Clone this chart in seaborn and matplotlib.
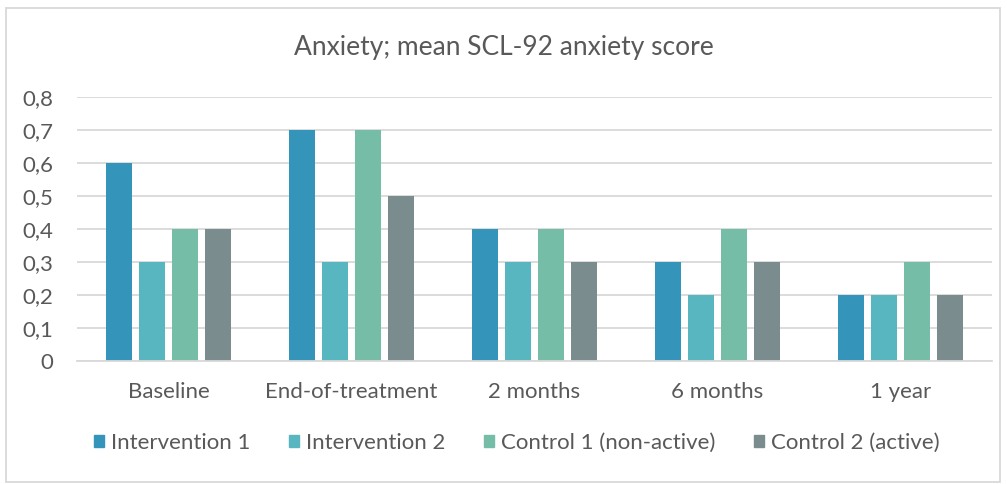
import matplotlib
matplotlib.use('Agg')
import matplotlib.pyplot as plt
import matplotlib.patches as mpatches
import seaborn as sns
import pandas as pd

# Chart data
timepoints = ['Baseline', 'End-of-treatment', '2 months', '6 months', '1 year']
groups = ['Intervention 1', 'Intervention 2', 'Control 1 (non-active)', 'Control 2 (active)']
intervention_1 = [0.6, 0.7, 0.4, 0.3, 0.2]
intervention_2 = [0.3, 0.3, 0.3, 0.2, 0.2]
control_1 = [0.4, 0.7, 0.4, 0.4, 0.3]
control_2 = [0.4, 0.5, 0.3, 0.3, 0.2]
y_ticks = [0, 0.1, 0.2, 0.3, 0.4, 0.5, 0.6, 0.7, 0.8]
y_tick_labels = ['0', '0,1', '0,2', '0,3', '0,4', '0,5', '0,6', '0,7', '0,8']

colors = ['#3494BA', '#58B6C0', '#75BDA7', '#7A8C8E']
text_color = '#595959'
grid_color = '#D9D9D9'

# Long-format table for seaborn
rows = []
for g, vals in zip(groups, [intervention_1, intervention_2, control_1, control_2]):
    for t, v in zip(timepoints, vals):
        rows.append({'timepoint': t, 'group': g, 'score': v})
df = pd.DataFrame(rows)

sns.set_style('white')
plt.rcParams['font.family'] = ['Lato', 'DejaVu Sans']

fig = plt.figure(figsize=(10.07, 4.84), dpi=100, facecolor='white')
ax = fig.add_axes([0.0765, 0.254, 0.9085, 0.546])

sns.barplot(data=df, x='timepoint', y='score', hue='group', order=timepoints,
            hue_order=groups, palette=colors, width=0.72, gap=0.21,
            saturation=1, errorbar=None, ax=ax, legend=False,
            edgecolor='none', linewidth=0)

ax.set_ylim(0, 0.8)
ax.set_xlim(-0.5, len(timepoints) - 0.5)
ax.set_yticks(y_ticks)
ax.set_yticklabels(y_tick_labels)
ax.yaxis.grid(True, color=grid_color, linewidth=1.3)
ax.set_axisbelow(True)
for side in ['top', 'right', 'left']:
    ax.spines[side].set_visible(False)
ax.spines['bottom'].set_color(grid_color)
ax.spines['bottom'].set_linewidth(1.3)
ax.tick_params(axis='both', length=0, labelsize=16, colors=text_color)
ax.tick_params(axis='y', pad=17)
ax.tick_params(axis='x', pad=15)
ax.set_xlabel('')
ax.set_ylabel('')

fig.text(0.5, 0.902, 'Anxiety; mean SCL-92 anxiety score', ha='center', va='center',
         fontsize=19, color=text_color)

handles = [mpatches.Patch(color=c, label=g) for c, g in zip(colors, groups)]
fig.legend(handles=handles, loc='center', bbox_to_anchor=(0.513, 0.085), ncol=4,
           frameon=False, fontsize=16, handlelength=0.45, handleheight=0.45,
           handletextpad=0.3, columnspacing=1.75, labelcolor=text_color)

# chart border
fig.patches.append(mpatches.Rectangle((6 / 1007, 2 / 484), 994 / 1007, 474 / 484,
                                      transform=fig.transFigure, fill=False,
                                      edgecolor=grid_color, linewidth=1.3))

plt.savefig('out.png', dpi=100, facecolor='white')
